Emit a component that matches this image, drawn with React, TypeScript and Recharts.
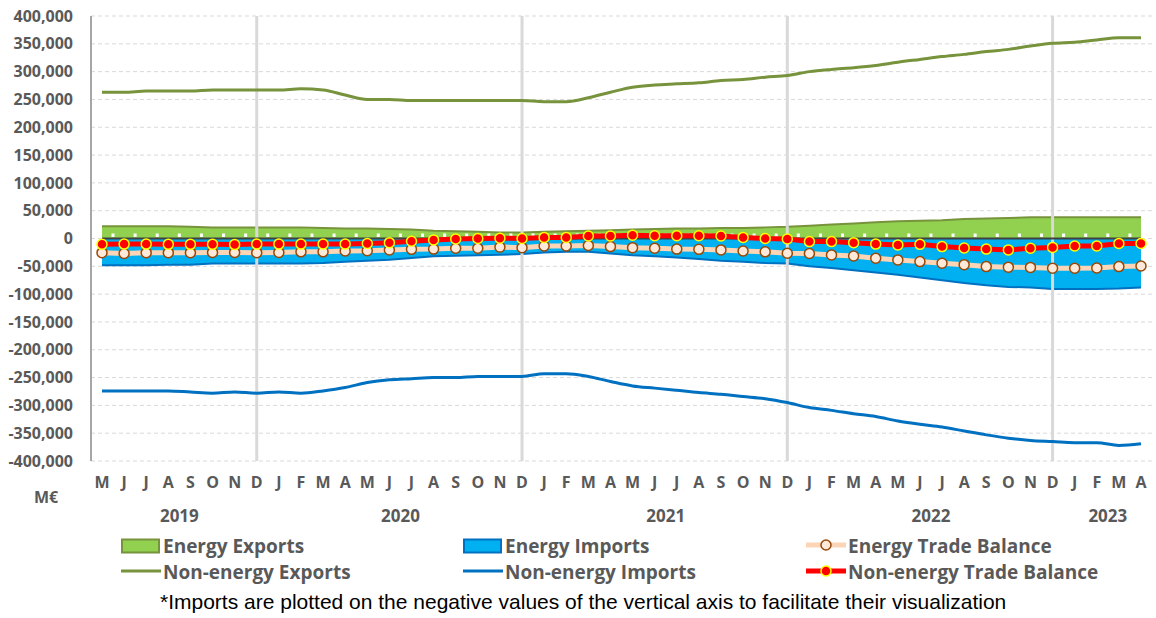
import { ComposedChart, Area, Line, XAxis, YAxis, CartesianGrid, ReferenceLine } from 'recharts';

// month initials on the axis, May 2019 .. April 2023
const monthLetters = [
  'M', 'J', 'J', 'A', 'S', 'O', 'N', 'D',
  'J', 'F', 'M', 'A', 'M', 'J', 'J', 'A', 'S', 'O', 'N', 'D',
  'J', 'F', 'M', 'A', 'M', 'J', 'J', 'A', 'S', 'O', 'N', 'D',
  'J', 'F', 'M', 'A', 'M', 'J', 'J', 'A', 'S', 'O', 'N', 'D',
  'J', 'F', 'M', 'A',
];

const yearGroups = [
  { year: '2019', months: 8 },
  { year: '2020', months: 12 },
  { year: '2021', months: 12 },
  { year: '2022', months: 12 },
  { year: '2023', months: 4 },
];

const energyExports = [
  22000, 22000, 22000, 22000, 21000, 20000, 20000, 20000,
  20000, 20000, 19000, 18000, 18000, 17000, 16000, 14000, 13000, 12000, 11000, 11000,
  12000, 13000, 14000, 15000, 16000, 17000, 18000, 18000, 19000, 19000, 20000, 21000,
  23000, 25000, 27000, 29000, 31000, 32000, 33000, 35000, 36000, 37000, 38000, 38000,
  38000, 38000, 38000, 38000,
];

const energyImports = [
  -48000, -48000, -48000, -47000, -47000, -45000, -45000, -45000,
  -45000, -45000, -44000, -42000, -40000, -38000, -35000, -32000, -31000, -30000, -29000, -28000,
  -25000, -24000, -24000, -27000, -30000, -32000, -34000, -37000, -40000, -42000, -44000, -45000,
  -50000, -53000, -57000, -61000, -65000, -70000, -75000, -80000, -84000, -87000, -88000, -91000,
  -91000, -91000, -90000, -88000,
];

const energyBalance = [
  -25500, -27000, -25500, -25500, -25500, -25000, -25000, -25500,
  -25000, -24000, -24000, -22500, -22000, -20500, -19500, -19000, -17500, -17500, -15500, -16500,
  -13500, -13500, -12500, -14500, -16500, -17500, -19000, -19500, -20500, -22500, -24000, -26500,
  -27000, -29500, -31500, -35500, -38500, -41500, -44500, -47000, -50500, -51500, -52000, -53500,
  -53500, -53000, -50500, -49500,
];

const nonEnergyExports = [
  263000, 263000, 265000, 265000, 265000, 267000, 267000, 267000,
  267000, 269000, 267000, 258000, 250000, 250000, 248000, 248000, 248000, 248000, 248000, 248000,
  246000, 246000, 253000, 263000, 272000, 276000, 278000, 280000, 284000, 286000, 290000, 293000,
  300000, 304000, 307000, 311000, 317000, 322000, 327000, 331000, 336000, 340000, 346000, 351000,
  353000, 357000, 361000, 361000,
];

const nonEnergyImports = [
  -274000, -274000, -274000, -274000, -276000, -278000, -276000, -278000,
  -276000, -278000, -274000, -268000, -259000, -254000, -252000, -250000, -250000, -248000, -248000, -248000,
  -243000, -243000, -248000, -257000, -265000, -269000, -273000, -277000, -280000, -284000, -288000, -295000,
  -304000, -309000, -315000, -320000, -328000, -334000, -339000, -346000, -353000, -359000, -363000, -365000,
  -367000, -367000, -372000, -369000,
];

const nonEnergyBalance = [
  -10500, -10000, -10000, -10500, -10500, -10500, -11000, -10000,
  -10000, -10000, -10000, -10000, -9000, -7500, -5000, -2500, -1000, 0, 500, 0,
  2000, 2000, 4500, 4500, 6000, 5000, 5000, 5000, 4500, 2000, 0, -1000,
  -5500, -5500, -7500, -10000, -11500, -10500, -14500, -17000, -19000, -20500, -17500, -16000,
  -13500, -13500, -9000, -9000,
];

const yTicks = [
  400000, 350000, 300000, 250000, 200000, 150000, 100000, 50000, 0,
  -50000, -100000, -150000, -200000, -250000, -300000, -350000, -400000,
];

// build category keys and the row table
const monthYears: string[] = [];
yearGroups.forEach((g) => {
  for (let i = 0; i < g.months; i++) monthYears.push(g.year);
});
const keys = monthLetters.map((m, i) => `${monthYears[i]}-${i}`);

const data = keys.map((key, i) => ({
  key,
  energyExports: energyExports[i],
  energyImports: energyImports[i],
  energyBalance: energyBalance[i],
  nonEnergyExports: nonEnergyExports[i],
  nonEnergyImports: nonEnergyImports[i],
  nonEnergyBalance: nonEnergyBalance[i],
}));

// where the year labels go (middle of each group)
const yearAt: Record<number, string> = {};
let start = 0;
yearGroups.forEach((g) => {
  yearAt[start + g.months / 2 - 1] = g.year;
  start += g.months;
});
const decemberKeys = keys.filter((k, i) => monthLetters[i] === 'D');

const CHART_W = 1156;
const CHART_H = 540;
const MARGIN_TOP = 16;
const Y_AXIS_W = 91;
const MARGIN_R = 4;
const PAD = 11;
const STEP = (CHART_W - Y_AXIS_W - MARGIN_R - 2 * PAD) / (keys.length - 1);

const GREY = '#595959';
const FONT = '"Open Sans", sans-serif';

const MonthTick = (props: any) => {
  const { x, y, payload } = props;
  const i = keys.indexOf(payload.value);
  const year = yearAt[i];
  return (
    <g>
      <text x={x} y={y + 27} textAnchor="middle" fill={GREY} fontSize={16} fontWeight={700} fontFamily={FONT}>
        {monthLetters[i]}
      </text>
      {year && (
        <text x={x + STEP / 2} y={y + 61} textAnchor="middle" fill={GREY} fontSize={17} fontWeight={700} fontFamily={FONT}>
          {year}
        </text>
      )}
    </g>
  );
};

const legendText: React.CSSProperties = {
  position: 'absolute',
  color: GREY,
  fontFamily: FONT,
  fontWeight: 700,
  fontSize: 19,
  lineHeight: '20px',
  whiteSpace: 'nowrap',
};

const BoxIcon = ({ fill, stroke }: { fill: string; stroke: string }) => (
  <svg width={40} height={16}>
    <rect x={1} y={1.5} width={37} height={13} fill={fill} stroke={stroke} strokeWidth={2} />
  </svg>
);

const LineIcon = ({ stroke, width, dotFill, dotStroke }: { stroke: string; width: number; dotFill?: string; dotStroke?: string }) => (
  <svg width={40} height={14}>
    <line x1={0} y1={7} x2={40} y2={7} stroke={stroke} strokeWidth={width} />
    {dotFill && <circle cx={20} cy={7} r={5} fill={dotFill} stroke={dotStroke} strokeWidth={1.5} />}
  </svg>
);

const legendItems = [
  { label: 'Energy Exports', left: 121, top: 536, icon: <BoxIcon fill="#92d050" stroke="#77933c" /> },
  { label: 'Energy Imports', left: 463, top: 536, icon: <BoxIcon fill="#00b0f0" stroke="#0070c0" /> },
  { label: 'Energy Trade Balance', left: 806, top: 536, icon: <LineIcon stroke="#fbd5b5" width={5} dotFill="#fde9d9" dotStroke="#984807" /> },
  { label: 'Non-energy Exports', left: 121, top: 562, icon: <LineIcon stroke="#77933c" width={3} /> },
  { label: 'Non-energy Imports', left: 463, top: 562, icon: <LineIcon stroke="#0070c0" width={3} /> },
  { label: 'Non-energy Trade Balance', left: 806, top: 562, icon: <LineIcon stroke="#ff0000" width={5} dotFill="#ff0000" dotStroke="#ffff00" /> },
];

export default function App() {
  return (
    <div style={{ position: 'absolute', left: 0, top: 0, width: CHART_W, height: 612 }}>
      <ComposedChart
        width={CHART_W}
        height={CHART_H}
        data={data}
        margin={{ top: MARGIN_TOP, right: MARGIN_R, left: 0, bottom: 0 }}
      >
        <CartesianGrid vertical={false} stroke="#d9d9d9" strokeDasharray="4 3" />
        <XAxis
          dataKey="key"
          interval={0}
          padding={{ left: PAD, right: PAD }}
          axisLine={false}
          tickLine={false}
          tickSize={0}
          tickMargin={0}
          height={CHART_H - MARGIN_TOP - 445}
          tick={<MonthTick />}
        />
        <YAxis
          width={Y_AXIS_W}
          domain={[-400000, 400000]}
          ticks={yTicks}
          interval={0}
          tickLine={false}
          tickSize={6}
          tickMargin={12}
          axisLine={{ stroke: '#a6a6a6', strokeWidth: 2 }}
          tickFormatter={(v: number) => v.toLocaleString('en-US')}
          tick={{ fill: GREY, fontSize: 16, fontWeight: 700, fontFamily: FONT }}
        />
        <Area
          dataKey="energyExports"
          type="linear"
          fill="#92d050"
          fillOpacity={1}
          stroke="#77933c"
          strokeWidth={2}
          isAnimationActive={false}
          activeDot={false}
        />
        <Area
          dataKey="energyImports"
          type="linear"
          fill="#00b0f0"
          fillOpacity={1}
          stroke="#0070c0"
          strokeWidth={2}
          isAnimationActive={false}
          activeDot={false}
        />
        {decemberKeys.map((k) => (
          <ReferenceLine key={k} x={k} stroke="#d9d9d9" strokeWidth={3} />
        ))}
        <ReferenceLine
          segment={[{ x: keys[0], y: 0 }, { x: keys[keys.length - 1], y: 0 }]}
          stroke="#404040"
          strokeWidth={2}
        />
        <ReferenceLine
          segment={[{ x: keys[0], y: 6000 }, { x: keys[keys.length - 1], y: 6000 }]}
          stroke="#ffffff"
          strokeWidth={3.5}
          strokeDasharray={`3 ${STEP - 3}`}
          strokeDashoffset={STEP - PAD + 1.5}
        />
        <Line
          dataKey="nonEnergyExports"
          type="monotone"
          stroke="#77933c"
          strokeWidth={3}
          dot={false}
          activeDot={false}
          isAnimationActive={false}
        />
        <Line
          dataKey="nonEnergyImports"
          type="monotone"
          stroke="#0070c0"
          strokeWidth={3}
          dot={false}
          activeDot={false}
          isAnimationActive={false}
        />
        <Line
          dataKey="energyBalance"
          type="linear"
          stroke="#fbd5b5"
          strokeWidth={5}
          dot={{ r: 5, fill: '#fde9d9', stroke: '#984807', strokeWidth: 1.5 }}
          activeDot={false}
          isAnimationActive={false}
        />
        <Line
          dataKey="nonEnergyBalance"
          type="linear"
          stroke="#ff0000"
          strokeWidth={5}
          dot={{ r: 5, fill: '#ff0000', stroke: '#ffff00', strokeWidth: 1.5 }}
          activeDot={false}
          isAnimationActive={false}
        />
      </ComposedChart>

      <div style={{ ...legendText, left: 34, top: 487, fontSize: 16 }}>M€</div>

      {legendItems.map((it) => (
        <div key={it.label}>
          <div style={{ position: 'absolute', left: it.left, top: it.top + 2, lineHeight: 0 }}>{it.icon}</div>
          <div style={{ ...legendText, left: it.left + 42, top: it.top }}>{it.label}</div>
        </div>
      ))}

      <div
        style={{
          position: 'absolute',
          left: 160,
          top: 590,
          fontFamily: '"Liberation Sans", Arial, sans-serif',
          fontSize: 21,
          lineHeight: '24px',
          color: '#000',
          whiteSpace: 'nowrap',
        }}
      >
        *Imports are plotted on the negative values of the vertical axis to facilitate their visualization
      </div>
    </div>
  );
}
